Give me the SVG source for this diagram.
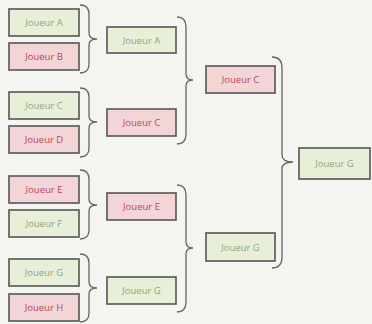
<svg xmlns="http://www.w3.org/2000/svg" width="372" height="324" viewBox="0 0 372 324">
<style>
.g rect{fill:#e8efd9;stroke:#555;stroke-width:1.6}
.r rect{fill:#f3d5d7;stroke:#555;stroke-width:1.6}
.g text{fill:#94a474}
.r text{fill:#b3485a}
text{font-family:"Open Sans","Liberation Sans",sans-serif;font-size:9.5px;text-anchor:middle;dominant-baseline:central}
.br path{fill:none;stroke:#666;stroke-width:1.3}
</style>
<rect width="372" height="324" fill="#f4f4f0"/>
<g class="br" id="connectors">
<path d="M80,5 Q89,5 89,14 L89,33 Q89,39 97,39 Q89,39 89,45 L89,64 Q89,73 80,73"/>
<path d="M80,88 Q89,88 89,97 L89,116 Q89,122 97,122 Q89,122 89,128 L89,148 Q89,157 80,157"/>
<path d="M80,170 Q89,170 89,179 L89,199 Q89,205 97,205 Q89,205 89,211 L89,230 Q89,239 80,239"/>
<path d="M80,254 Q89,254 89,263 L89,282 Q89,288 97,288 Q89,288 89,294 L89,313 Q89,322 80,322"/>
<path d="M177,17 Q186,17 186,27 L186,74 Q186,80 193,80 Q186,80 186,86 L186,134 Q186,144 177,144"/>
<path d="M177,185 Q186,185 186,195 L186,242 Q186,248 193,248 Q186,248 186,254 L186,302 Q186,312 177,312"/>
<path d="M272,57 Q282,57 282,68 L282,155 Q282,162 293,162 Q282,162 282,169 L282,257 Q282,268 272,268"/>
</g>
<g id="r1a" class="g"><rect x="9" y="9" width="70" height="27"/><text x="44" y="22.5">Joueur A</text></g>
<g id="r1b" class="r"><rect x="9" y="43" width="70" height="27"/><text x="44" y="56.5">Joueur B</text></g>
<g id="r1c" class="g"><rect x="9" y="92" width="70" height="27"/><text x="44" y="105.5">Joueur C</text></g>
<g id="r1d" class="r"><rect x="9" y="126" width="70" height="27"/><text x="44" y="139.5">Joueur D</text></g>
<g id="r1e" class="r"><rect x="9" y="176" width="70" height="27"/><text x="44" y="189.5">Joueur E</text></g>
<g id="r1f" class="g"><rect x="9" y="210" width="70" height="27"/><text x="44" y="223.5">Joueur F</text></g>
<g id="r1g" class="g"><rect x="9" y="259" width="70" height="27"/><text x="44" y="272.5">Joueur G</text></g>
<g id="r1h" class="r"><rect x="9" y="294" width="70" height="27"/><text x="44" y="307.5">Joueur H</text></g>
<g id="r2a" class="g"><rect x="107" y="27" width="69" height="26"/><text x="141.5" y="40">Joueur A</text></g>
<g id="r2c" class="r"><rect x="107" y="109" width="69" height="27"/><text x="141.5" y="122.5">Joueur C</text></g>
<g id="r2e" class="r"><rect x="107" y="193" width="69" height="27"/><text x="141.5" y="206.5">Joueur E</text></g>
<g id="r2g" class="g"><rect x="107" y="277" width="69" height="27"/><text x="141.5" y="290.5">Joueur G</text></g>
<g id="r3c" class="r"><rect x="206" y="66" width="69" height="27"/><text x="240.5" y="79.5">Joueur C</text></g>
<g id="r3g" class="g"><rect x="206" y="233" width="69" height="28"/><text x="240.5" y="247">Joueur G</text></g>
<g id="final" class="g"><rect x="299" y="148" width="71" height="31"/><text x="334.5" y="163.5">Joueur G</text></g>
</svg>
